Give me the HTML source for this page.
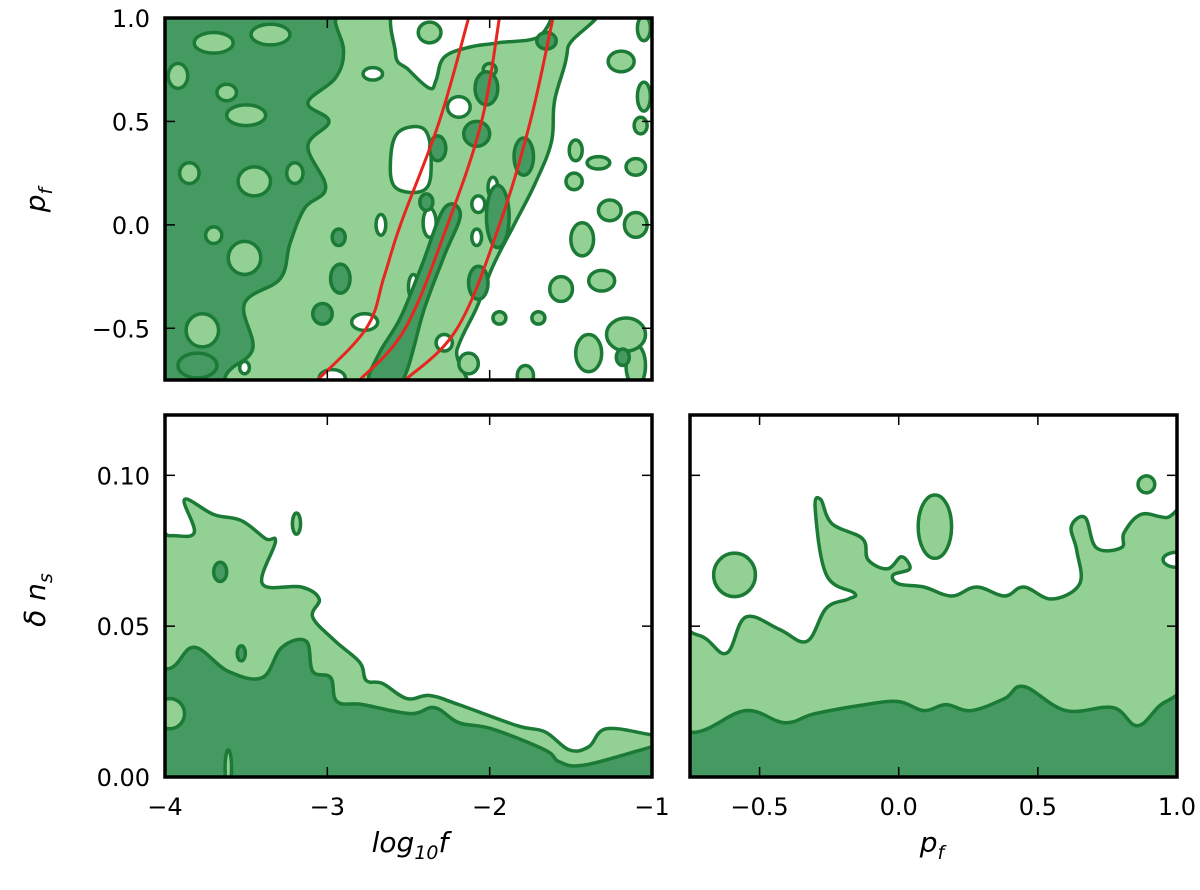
<!DOCTYPE html>
<html><head><meta charset="utf-8"><style>
body{margin:0;background:#fff;}
svg{display:block;font-family:"DejaVu Sans","Liberation Sans",sans-serif;}
.tk{font-size:24px;fill:#000;}
.al{font-size:28px;font-style:italic;fill:#000;}
</style></head><body>
<svg id="chart" width="1200" height="890" viewBox="0 0 1200 890" xmlns="http://www.w3.org/2000/svg">
<defs>
<clipPath id="cTL"><rect x="165" y="18" width="487" height="362"/></clipPath>
<clipPath id="cBL"><rect x="165" y="415" width="487" height="362"/></clipPath>
<clipPath id="cBR"><rect x="690" y="415" width="487" height="362"/></clipPath>
</defs>
<g id="gTL" clip-path="url(#cTL)"></g>
<g id="gBL" clip-path="url(#cBL)"></g>
<g id="gBR" clip-path="url(#cBR)"></g>
<g id="axes"></g>
<text class="al" x="410" y="852" text-anchor="middle">log<tspan font-size="19" dy="7">10</tspan><tspan dy="-7">f</tspan></text>
<text class="al" x="932" y="852" text-anchor="middle">p<tspan font-size="19" dy="7">f</tspan></text>
<text class="al" transform="translate(45,200) rotate(-90)" text-anchor="middle">p<tspan font-size="19" dy="7">f</tspan></text>
<text class="al" transform="translate(45,600) rotate(-90)" text-anchor="middle">δ n<tspan font-size="19" dy="7">s</tspan></text>
</svg>
<script>
// ---- data (contour boundaries in data coordinates) ----
const tlLightMain = [[-4.2,-0.9],[-4.2,1.1],[-1.55,1.1],[-1.52,0.85],[-1.6,0.6],[-1.62,0.4],[-1.72,0.2],[-1.85,0.0],[-1.98,-0.2],[-2.08,-0.4],[-2.2,-0.6],[-2.3,-0.9]];
const tlGap = [[-2.52,1.1],[-1.70,1.1],[-1.68,0.92],[-1.95,0.88],[-2.12,0.86],[-2.28,0.81],[-2.33,0.70],[-2.37,0.66],[-2.50,0.75],[-2.58,0.83]];
const tlHole = [[-2.56,0.45],[-2.40,0.46],[-2.36,0.30],[-2.40,0.17],[-2.58,0.18],[-2.61,0.32]];
const tlWhiteBlobs = [[-2.19,0.57,0.07,0.05],[-2.37,0.01,0.04,0.07],[-2.67,0.0,0.03,0.05],[-2.07,0.10,0.04,0.04],[-2.08,-0.06,0.03,0.04],[-2.47,-0.30,0.03,0.06],[-2.77,-0.47,0.08,0.04],[-1.98,0.18,0.03,0.05],[-2.28,-0.57,0.05,0.04],[-2.97,-0.74,0.08,0.04],[-3.51,-0.69,0.03,0.03],[-2.72,0.73,0.06,0.03]];
const tlDarkMain = [[-4.2,1.1],[-2.95,1.1],[-2.95,0.98],[-2.90,0.84],[-2.95,0.71],[-3.12,0.59],[-2.99,0.50],[-3.12,0.38],[-3.01,0.18],[-3.14,0.08],[-3.23,-0.09],[-3.29,-0.26],[-3.51,-0.38],[-3.46,-0.60],[-3.62,-0.72],[-3.70,-0.9],[-4.2,-0.9]];
const tlDarkBand = [[-2.74,-0.76],[-2.55,-0.77],[-2.40,-0.40],[-2.28,-0.15],[-2.18,0.05],[-2.28,0.08],[-2.42,-0.20],[-2.55,-0.45],[-2.68,-0.62]];
const tlLightInDark = [[-3.62,0.64,0.06,0.04],[-3.50,0.53,0.12,0.05],[-3.45,0.21,0.10,0.07],[-3.51,-0.16,0.10,0.08],[-3.92,0.72,0.06,0.06],[-3.70,0.88,0.12,0.05],[-3.77,-0.51,0.1,0.08],[-3.35,0.92,0.12,0.05],[-3.85,0.25,0.06,0.05],[-3.70,-0.05,0.05,0.04],[-3.2,0.25,0.05,0.05]];
const tlDarkBlobs = [[-2.02,0.66,0.07,0.08],[-2.08,0.44,0.08,0.06],[-1.79,0.33,0.06,0.09],[-2.32,0.37,0.05,0.06],[-1.95,0.04,0.07,0.15],[-2.07,-0.28,0.06,0.08],[-2.92,-0.26,0.06,0.07],[-3.03,-0.43,0.06,0.05],[-2.93,-0.06,0.04,0.04],[-1.65,0.89,0.06,0.04],[-1.18,-0.64,0.04,0.04],[-2.39,0.11,0.04,0.04],[-3.80,-0.68,0.12,0.06]];
const tlLightBlobs = [[-1.19,0.79,0.08,0.05],[-1.47,0.36,0.04,0.05],[-1.33,0.30,0.07,0.03],[-1.48,0.21,0.05,0.04],[-1.26,0.07,0.07,0.05],[-1.10,0.0,0.07,0.06],[-1.43,-0.07,0.07,0.08],[-1.56,-0.31,0.07,0.06],[-1.31,-0.27,0.08,0.05],[-1.05,0.62,0.04,0.07],[-1.07,0.48,0.04,0.04],[-1.10,0.28,0.06,0.04],[-1.10,-0.68,0.06,0.10],[-1.16,-0.53,0.12,0.08],[-1.39,-0.62,0.08,0.09],[-1.78,-0.73,0.05,0.05],[-1.70,-0.45,0.04,0.03],[-1.94,-0.45,0.04,0.03],[-2.13,-0.67,0.06,0.05],[-1.05,0.95,0.04,0.06],[-2.37,0.93,0.07,0.05],[-2.0,0.75,0.04,0.03]];
const redCurve1 = [[-3.06,-0.75],[-2.76,-0.5],[-2.65,-0.25],[-2.55,0],[-2.31,0.5],[-2.13,1.0]];
const redCurve2 = [[-2.80,-0.75],[-2.52,-0.5],[-2.26,0],[-2.05,0.5],[-1.94,1.0]];
const redCurve3 = [[-2.52,-0.75],[-2.20,-0.5],[-1.94,0],[-1.75,0.5],[-1.61,1.0]];
const blLight = [[-4.2,-0.01],[-4.2,0.080],[-3.97,0.080],[-3.82,0.081],[-3.88,0.092],[-3.70,0.087],[-3.53,0.085],[-3.38,0.079],[-3.32,0.078],[-3.40,0.064],[-3.16,0.063],[-3.05,0.059],[-3.09,0.053],[-2.95,0.045],[-2.80,0.038],[-2.76,0.032],[-2.66,0.031],[-2.51,0.026],[-2.37,0.027],[-2.19,0.024],[-1.83,0.017],[-1.66,0.015],[-1.51,0.009],[-1.39,0.010],[-1.28,0.016],[-1.0,0.014],[-0.9,0.014],[-0.9,-0.01]];
const blDark = [[-4.2,-0.01],[-4.2,0.036],[-3.97,0.036],[-3.82,0.043],[-3.61,0.035],[-3.40,0.033],[-3.28,0.043],[-3.13,0.045],[-3.09,0.035],[-2.98,0.033],[-2.94,0.025],[-2.78,0.024],[-2.49,0.021],[-2.34,0.023],[-2.19,0.018],[-1.99,0.016],[-1.66,0.009],[-1.57,0.005],[-1.41,0.004],[-1.0,0.010],[-0.9,0.011],[-0.9,-0.01]];
const blTopBlobs = [[-3.19,0.084,0.025,0.0035]];
const blLightInDark = [[-3.97,0.021,0.09,0.005],[-3.61,0.003,0.02,0.006]];
const blDarkBlobs = [[-3.66,0.068,0.04,0.0032],[-3.53,0.041,0.025,0.0025]];
const brLight = [[-0.9,-0.01],[-0.9,0.047],[-0.72,0.047],[-0.62,0.041],[-0.55,0.053],[-0.43,0.049],[-0.33,0.045],[-0.26,0.056],[-0.18,0.059],[-0.16,0.061],[-0.26,0.067],[-0.30,0.089],[-0.28,0.092],[-0.24,0.084],[-0.13,0.079],[-0.11,0.072],[-0.04,0.069],[0.01,0.073],[0.04,0.069],[-0.02,0.067],[0.0,0.064],[0.09,0.063],[0.19,0.060],[0.28,0.063],[0.38,0.060],[0.45,0.063],[0.55,0.059],[0.65,0.064],[0.64,0.075],[0.62,0.083],[0.67,0.086],[0.71,0.076],[0.80,0.076],[0.81,0.081],[0.87,0.087],[0.96,0.086],[1.1,0.085],[1.1,-0.01]];
const brDark = [[-0.9,-0.01],[-0.9,0.015],[-0.72,0.015],[-0.55,0.022],[-0.41,0.018],[-0.30,0.021],[-0.12,0.024],[0.0,0.025],[0.09,0.022],[0.17,0.024],[0.26,0.022],[0.38,0.026],[0.45,0.030],[0.60,0.022],[0.77,0.023],[0.86,0.017],[0.96,0.025],[1.1,0.027],[1.1,-0.01]];
const brLightBlobs = [[-0.59,0.067,0.075,0.0072],[0.13,0.083,0.06,0.0105],[0.89,0.097,0.03,0.0028]];
const brWhiteBlobs = [[1.0,0.072,0.05,0.0025]];
const xTicksLogf = [-4,-3,-2,-1];
const xTickLabelsLogf = ["\u22124","\u22123","\u22122","\u22121"];
const yTicksPf = [-0.5,0.0,0.5,1.0];
const yTickLabelsPf = ["\u22120.5","0.0","0.5","1.0"];
const yTicksDns = [0.0,0.05,0.10];
const yTickLabelsDns = ["0.00","0.05","0.10"];
const xTicksPf = [-0.5,0.0,0.5,1.0];
const xTickLabelsPf = ["\u22120.5","0.0","0.5","1.0"];

// ---- scales ----
const L=165, R=652, T1=18, B1=380, T2=415, B2=777, L3=690, R3=1177;
const xLog = v => L + (v + 4) / 3 * (R - L);
const yPf = v => B1 - (v + 0.75) / 1.75 * (B1 - T1);
const yDns = v => B2 - v / 0.12 * (B2 - T2);
const xPf = v => L3 + (v + 0.75) / 1.75 * (R3 - L3);

const NS = "http://www.w3.org/2000/svg";
const LIGHT="#92d193", DARK="#449a60", LINE="#1b7a36";

function smooth(pts, closed){
  const n=pts.length; let d="M"+pts[0][0].toFixed(1)+","+pts[0][1].toFixed(1);
  const m = closed ? n : n-1;
  for(let i=0;i<m;i++){
    const p0=pts[closed?(i-1+n)%n:Math.max(i-1,0)], p1=pts[i], p2=pts[(i+1)%n], p3=pts[closed?(i+2)%n:Math.min(i+2,n-1)];
    const t=0.18;
    const c1=[p1[0]+(p2[0]-p0[0])*t, p1[1]+(p2[1]-p0[1])*t];
    const c2=[p2[0]-(p3[0]-p1[0])*t, p2[1]-(p3[1]-p1[1])*t];
    d+=" C"+c1.map(v=>v.toFixed(1))+" "+c2.map(v=>v.toFixed(1))+" "+p2.map(v=>v.toFixed(1));
  }
  return closed? d+"Z" : d;
}
function region(g, data, fx, fy, fill, name){
  const p=document.createElementNS(NS,"path");
  p.setAttribute("d", smooth(data.map(q=>[fx(q[0]),fy(q[1])]), true));
  p.setAttribute("fill", fill); p.setAttribute("stroke", LINE); p.setAttribute("stroke-width","3.5"); p.setAttribute("stroke-linejoin","round");
  
  
  g.appendChild(p);
}
function blobs(g, data, fx, fy, fill, name){
  data.forEach(b=>{
    const e=document.createElementNS(NS,"ellipse");
    const cx=fx(b[0]), cy=fy(b[1]);
    e.setAttribute("cx",cx); e.setAttribute("cy",cy);
    e.setAttribute("rx",Math.abs(fx(b[0]+b[2])-cx)); e.setAttribute("ry",Math.abs(fy(b[1]+b[3])-cy));
    e.setAttribute("fill",fill); e.setAttribute("stroke",LINE); e.setAttribute("stroke-width","3.5");
    
    
    g.appendChild(e);
  });
}
function curve(g, data, fx, fy, name){
  const p=document.createElementNS(NS,"path");
  p.setAttribute("d", smooth(data.map(q=>[fx(q[0]),fy(q[1])]), false));
  p.setAttribute("fill","none"); p.setAttribute("stroke","#e8251f"); p.setAttribute("stroke-width","3");
  
  
  g.appendChild(p);
}

const gTL=document.getElementById("gTL"), gBL=document.getElementById("gBL"), gBR=document.getElementById("gBR");
region(gTL, tlLightMain, xLog, yPf, LIGHT, "contour-2sigma");
region(gTL, tlGap, xLog, yPf, "#fff", "contour-gap");
region(gTL, tlHole, xLog, yPf, "#fff", "contour-hole");
blobs(gTL, tlWhiteBlobs, xLog, yPf, "#fff", "contour-hole");
region(gTL, tlDarkMain, xLog, yPf, DARK, "contour-1sigma");
region(gTL, tlDarkBand, xLog, yPf, DARK, "contour-1sigma-band");
blobs(gTL, tlLightInDark, xLog, yPf, LIGHT, "contour-island");
blobs(gTL, tlLightBlobs, xLog, yPf, LIGHT, "contour-island");
blobs(gTL, tlDarkBlobs, xLog, yPf, DARK, "contour-island-dark");
curve(gTL, redCurve1, xLog, yPf, "red-curve-1");
curve(gTL, redCurve2, xLog, yPf, "red-curve-2");
curve(gTL, redCurve3, xLog, yPf, "red-curve-3");

region(gBL, blLight, xLog, yDns, LIGHT, "contour-2sigma");
blobs(gBL, blTopBlobs, xLog, yDns, LIGHT, "contour-island");
region(gBL, blDark, xLog, yDns, DARK, "contour-1sigma");
blobs(gBL, blDarkBlobs, xLog, yDns, DARK, "contour-island-dark");
blobs(gBL, blLightInDark, xLog, yDns, LIGHT, "contour-island");

region(gBR, brLight, xPf, yDns, LIGHT, "contour-2sigma");
blobs(gBR, brLightBlobs, xPf, yDns, LIGHT, "contour-island");
blobs(gBR, brWhiteBlobs, xPf, yDns, "#fff", "contour-hole");
region(gBR, brDark, xPf, yDns, DARK, "contour-1sigma");

// ---- axes ----
const ax=document.getElementById("axes");
function line(x1,y1,x2,y2,w){
  const l=document.createElementNS(NS,"line");
  l.setAttribute("x1",x1);l.setAttribute("y1",y1);l.setAttribute("x2",x2);l.setAttribute("y2",y2);
  l.setAttribute("stroke","#000");l.setAttribute("stroke-width",w);
  
  
  ax.appendChild(l);
}
function label(x,y,txt,anchor,name){
  const t=document.createElementNS(NS,"text");
  t.setAttribute("x",x);t.setAttribute("y",y);t.setAttribute("text-anchor",anchor);t.setAttribute("class","tk");
  t.textContent=txt;
  
  
  ax.appendChild(t);
}
function frame(x0,y0,x1,y1,name){
  const r=document.createElementNS(NS,"rect");
  r.setAttribute("x",x0);r.setAttribute("y",y0);r.setAttribute("width",x1-x0);r.setAttribute("height",y1-y0);
  r.setAttribute("fill","none");r.setAttribute("stroke","#000");r.setAttribute("stroke-width","3.5");
  
  
  ax.appendChild(r);
}
const TK=10;
xTicksLogf.forEach(v=>{const x=xLog(v); line(x,B1,x,B1-TK,1.5); line(x,T1,x,T1+TK,1.5);});
yTicksPf.forEach((v,i)=>{const y=yPf(v); line(L,y,L+TK,y,1.5); line(R,y,R-TK,y,1.5); label(150,y+9,yTickLabelsPf[i],"end","y-tick-label-pf");});
xTicksLogf.forEach((v,i)=>{const x=xLog(v); line(x,B2,x,B2-TK,1.5); line(x,T2,x,T2+TK,1.5); label(x,815,xTickLabelsLogf[i],"middle","x-tick-label-logf");});
yTicksDns.forEach((v,i)=>{const y=yDns(v); line(L,y,L+TK,y,1.5); line(R,y,R-TK,y,1.5); label(150,y+9,yTickLabelsDns[i],"end","y-tick-label-dns");});
xTicksPf.forEach((v,i)=>{const x=xPf(v); line(x,B2,x,B2-TK,1.5); line(x,T2,x,T2+TK,1.5); label(x,815,xTickLabelsPf[i],"middle","x-tick-label-pf");});
yTicksDns.forEach(v=>{const y=yDns(v); line(L3,y,L3+TK,y,1.5); line(R3,y,R3-TK,y,1.5);});
frame(L,T1,R,B1,"frame-top-left");
frame(L,T2,R,B2,"frame-bottom-left");
frame(L3,T2,R3,B2,"frame-bottom-right");
</script>
</body></html>
